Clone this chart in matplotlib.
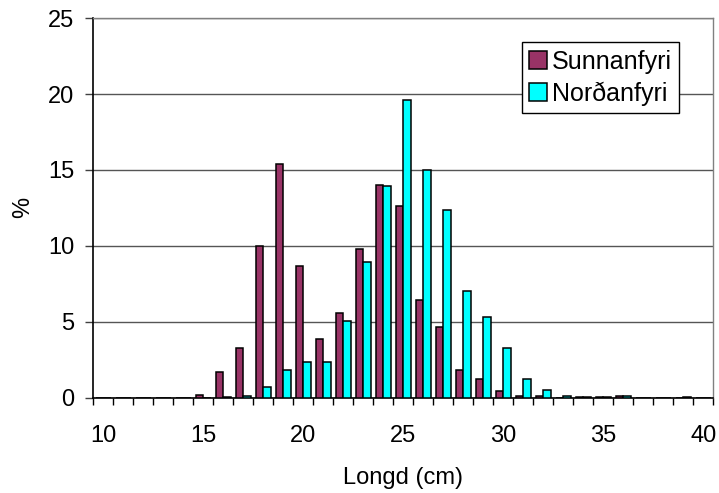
import matplotlib
matplotlib.use("Agg")
import matplotlib.pyplot as plt
import numpy as np
from matplotlib.ticker import MultipleLocator, FixedLocator

plt.rcParams['font.family'] = ['Liberation Sans', 'DejaVu Sans']

lengths = list(range(10, 41))
sunnanfyri = [0, 0, 0, 0, 0, 0.15, 1.69, 3.27, 9.99, 15.38, 8.68, 3.84, 5.56, 9.8, 14.0,
              12.63, 6.41, 4.68, 1.8, 1.25, 0.42, 0.1, 0.07, 0, 0.03, 0.03, 0.07, 0, 0, 0, 0]
nordanfyri = [0, 0, 0, 0, 0, 0, 0.05, 0.1, 0.66, 1.8, 2.31, 2.31, 5.05, 8.92, 13.93,
              19.6, 14.98, 12.37, 7.03, 5.31, 3.27, 1.21, 0.48, 0.13, 0.03, 0.03, 0.07, 0, 0, 0.03, 0]
series_names = ["Sunnanfyri", "Norðanfyri"]
colors = ["#993366", "#00FFFF"]
xtick_labels = [10, 15, 20, 25, 30, 35, 40]

fig = plt.figure(figsize=(7.19, 4.93), dpi=100)
ax = fig.add_axes([93.3/719, 95.5/493, 620/719, 379.2/493])

x = np.array(lengths, dtype=float)
w = 0.365
ax.bar(x - w/2, sunnanfyri, width=w, color=colors[0], edgecolor='black', linewidth=1.1,
       label=series_names[0], zorder=3)
ax.bar(x + w/2, nordanfyri, width=w, color=colors[1], edgecolor='black', linewidth=1.1,
       label=series_names[1], zorder=3)

ax.set_xlim(9.5, 40.5)
ax.set_ylim(0, 25)
ax.yaxis.set_major_locator(MultipleLocator(5))
ax.set_xticks(xtick_labels)
ax.set_xticklabels([str(v) for v in xtick_labels])
ax.xaxis.set_minor_locator(FixedLocator(np.arange(9.5, 41, 1.0)))
ax.tick_params(axis='x', which='major', length=0, pad=20, labelsize=17)
ax.tick_params(axis='x', which='minor', length=5, width=1, direction='out', color='black')
ax.tick_params(axis='y', which='major', length=5.8, width=1, direction='out', pad=8,
               labelsize=17, color='#404040')

ax.grid(axis='y', color='#555555', linewidth=1, zorder=0)
for s in ['top', 'right']:
    ax.spines[s].set_color('#808080')
    ax.spines[s].set_linewidth(1)
for s in ['left', 'bottom']:
    ax.spines[s].set_color('black')
    ax.spines[s].set_linewidth(1.2)

ax.set_xlabel("Longd (cm)", fontsize=17, labelpad=14)
ax.set_ylabel("%", fontsize=17, labelpad=10)

leg = ax.legend(loc='upper right', bbox_to_anchor=(0.945, 0.937), fontsize=18,
                frameon=True, fancybox=False, framealpha=1, edgecolor='black',
                handlelength=0.7, handleheight=0.7, handletextpad=0.2,
                borderpad=0.3, labelspacing=0.3, borderaxespad=0)
leg.get_frame().set_linewidth(1)

fig.savefig("out.png", dpi=100)
